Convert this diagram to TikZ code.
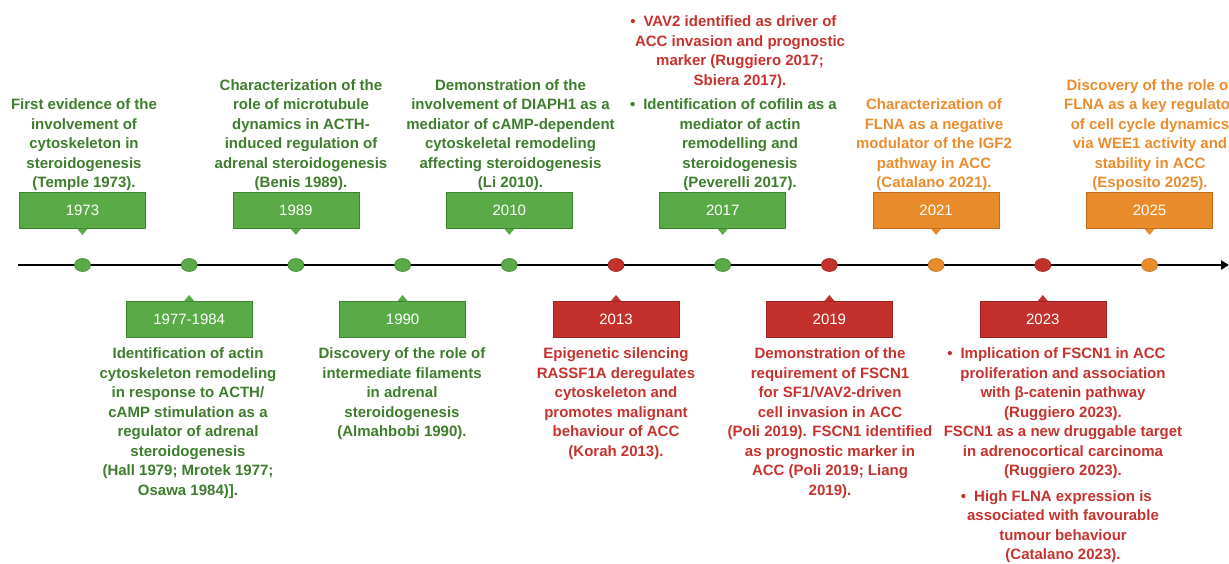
\documentclass[tikz,border=0pt]{standalone}
\usepackage{fontspec}
\setmainfont{Liberation Sans}
\usetikzlibrary{arrows.meta,shapes.geometric}
\definecolor{gfill}{RGB}{90,170,72}
\definecolor{gline}{RGB}{62,130,50}
\definecolor{gtext}{RGB}{62,124,46}
\definecolor{rfill}{RGB}{196,49,44}
\definecolor{rline}{RGB}{150,35,32}
\definecolor{rtext}{RGB}{198,50,45}
\definecolor{ofill}{RGB}{234,139,43}
\definecolor{oline}{RGB}{190,110,30}
\definecolor{otext}{RGB}{234,140,45}
\tikzset{
  yearbox/.style={draw=#1line, fill=#1fill, line width=0.6pt, minimum width=126pt,
    minimum height=36pt, inner sep=0pt, text=white, font=\fontsize{15}{18}\selectfont},
  evt/.style={text=#1text, font=\bfseries\fontsize{15}{19.5}\selectfont, align=center, inner sep=0pt},
  dotmark/.style={ellipse, minimum width=16pt, minimum height=13pt, inner sep=0pt,
    fill=#1fill, draw=#1line, line width=0.6pt},
  axisline/.style={line width=2.6pt, -{Triangle[length=8pt,width=9pt]}},
}
\newcommand\tipdown[2]{\fill[#2fill] ([xshift=-5pt]#1.south) -- ([xshift=5pt]#1.south) -- ([yshift=-6pt]#1.south) -- cycle;}
\newcommand\tipup[2]{\fill[#2fill] ([xshift=-5pt]#1.north) -- ([xshift=5pt]#1.north) -- ([yshift=6pt]#1.north) -- cycle;}
\newcommand\bul{\llap{•\hspace{8pt}}}
\begin{document}
\begin{tikzpicture}[x=1pt,y=-1pt]
\useasboundingbox (0,0) rectangle (1229,563);
% axis
\coordinate (axs) at (18,265);
\coordinate (axe) at (1229,265);
\draw[axisline] (axs) -- (axe);
% dots
\node[dotmark=g] (d1) at (82.5,265) {};
\node[dotmark=g] (d2) at (189.2,265) {};
\node[dotmark=g] (d3) at (295.9,265) {};
\node[dotmark=g] (d4) at (402.6,265) {};
\node[dotmark=g] (d5) at (509.3,265) {};
\node[dotmark=r] (d6) at (616.0,265) {};
\node[dotmark=g] (d7) at (722.7,265) {};
\node[dotmark=r] (d8) at (829.4,265) {};
\node[dotmark=o] (d9) at (936.1,265) {};
\node[dotmark=r] (d10) at (1042.8,265) {};
\node[dotmark=o] (d11) at (1149.5,265) {};
% top boxes
\node[yearbox=g] (b1973) at (82.5,210.6) {1973};
\node[yearbox=g] (b1989) at (295.9,210.6) {1989};
\node[yearbox=g] (b2010) at (509.3,210.6) {2010};
\node[yearbox=g] (b2017) at (722.7,210.6) {2017};
\node[yearbox=o] (b2021) at (936.1,210.6) {2021};
\node[yearbox=o] (b2025) at (1149.5,210.6) {2025};
\tipdown{b1973}{g}\tipdown{b1989}{g}\tipdown{b2010}{g}\tipdown{b2017}{g}\tipdown{b2021}{o}\tipdown{b2025}{o}
% bottom boxes
\node[yearbox=g] (b1977) at (189.2,319.3) {1977-1984};
\node[yearbox=g] (b1990) at (402.6,319.3) {1990};
\node[yearbox=r] (b2013) at (616.0,319.3) {2013};
\node[yearbox=r] (b2019) at (829.4,319.3) {2019};
\node[yearbox=r] (b2023) at (1042.8,319.3) {2023};
\tipup{b1977}{g}\tipup{b1990}{g}\tipup{b2013}{r}\tipup{b2019}{r}\tipup{b2023}{r}
% top texts
\node[evt=g, anchor=south] (t1973) at (84,191) {First evidence of the\\involvement of\\cytoskeleton in\\steroidogenesis\\(Temple 1973).};
\node[evt=g, anchor=south] (t1989) at (301,191) {Characterization of the\\role of microtubule\\dynamics in ACTH-\\induced regulation of\\adrenal steroidogenesis\\(Benis 1989).};
\node[evt=g, anchor=south] (t2010) at (510.5,191) {Demonstration of the\\involvement of DIAPH1 as a\\mediator of cAMP-dependent\\cytoskeletal remodeling\\affecting steroidogenesis\\(Li 2010).};
\node[evt=g, anchor=south] (t2017b) at (740,191) {\bul Identification of cofilin as a\\mediator of actin\\remodelling and\\steroidogenesis\\(Peverelli 2017).};
\node[evt=r, anchor=south] (t2017a) at ([yshift=10pt]t2017b.north) {\bul VAV2 identified as driver of\\ACC invasion and prognostic\\marker (Ruggiero 2017;\\Sbiera 2017).};
\node[evt=o, anchor=south] (t2021) at (934,191) {Characterization of\\FLNA as a negative\\modulator of the IGF2\\pathway in ACC\\(Catalano 2021).};
\node[evt=o, anchor=south] (t2025) at (1150,191) {Discovery of the role of\\FLNA as a key regulator\\of cell cycle dynamics\\via WEE1 activity and\\stability in ACC\\(Esposito 2025).};
% bottom texts
\node[evt=g, anchor=north] (t1977) at (188,347.5) {Identification of actin\\cytoskeleton remodeling\\in response to ACTH/\\cAMP stimulation as a\\regulator of adrenal\\steroidogenesis\\(Hall 1979; Mrotek 1977;\\Osawa 1984)].};
\node[evt=g, anchor=north] (t1990) at (402,347.5) {Discovery of the role of\\intermediate filaments\\in adrenal\\steroidogenesis\\(Almahbobi 1990).};
\node[evt=r, anchor=north] (t2013) at (616,347.5) {Epigenetic silencing\\RASSF1A deregulates\\cytoskeleton and\\promotes malignant\\behaviour of ACC\\(Korah 2013).};
\node[evt=r, anchor=north] (t2019) at (830,347.5) {Demonstration of the\\requirement of FSCN1\\for SF1/VAV2-driven\\cell invasion in ACC\\(Poli 2019). FSCN1 identified\\as prognostic marker in\\ACC (Poli 2019; Liang\\2019).};
\node[evt=r, anchor=north] (t2023) at (1063,347.5) {\bul Implication of FSCN1 in ACC\\proliferation and association\\with β-catenin pathway\\(Ruggiero 2023).\\FSCN1 as a new druggable target\\in adrenocortical carcinoma\\(Ruggiero 2023).\\[6pt]\bul High FLNA expression is\\associated with favourable\\tumour behaviour\\(Catalano 2023).};
\end{tikzpicture}
\end{document}
